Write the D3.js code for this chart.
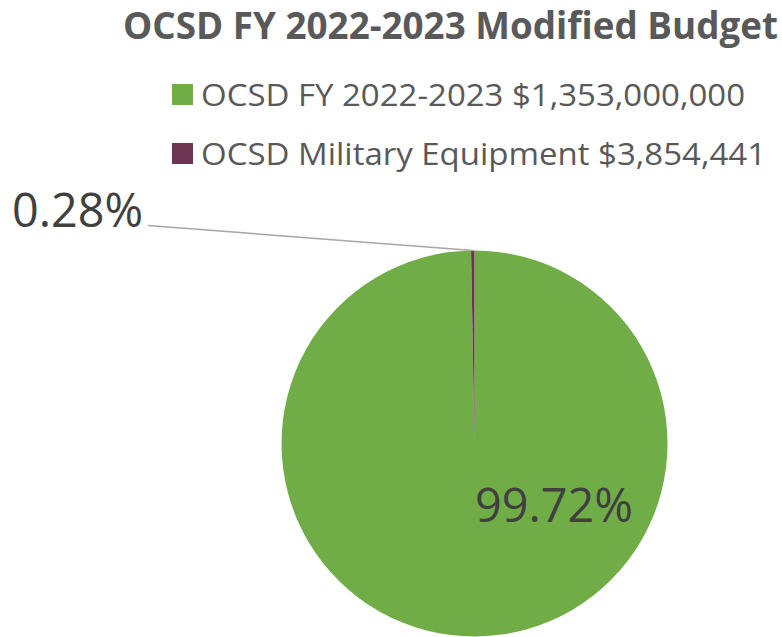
<!DOCTYPE html>
<html>
<head>
<meta charset="utf-8">
<script src="https://cdn.jsdelivr.net/npm/d3@7"></script>
<style>
  html, body { margin: 0; padding: 0; background: #fff; }
  svg { display: block; }
</style>
</head>
<body>
<svg id="chart" width="782" height="637"></svg>
<script>
const title = "OCSD FY 2022-2023 Modified Budget";
const categories = ["OCSD FY 2022-2023 $1,353,000,000", "OCSD Military Equipment $3,854,441"];
const values = [1353000000, 3854441];
const colors = ["#70AD47", "#6E3553"];

const svg = d3.select("#chart");
const FONT = "'Open Sans', 'Noto Sans', sans-serif";

function fitText(sel, width) {
  sel.attr("textLength", width).attr("lengthAdjust", "spacingAndGlyphs");
}

// Title
svg.append("text")
  .attr("x", 123).attr("y", 39)
  .attr("font-family", FONT).attr("font-weight", 700)
  .attr("font-size", 37).attr("fill", "#595959")
  .text(title)
  .call(fitText, 655);

// Legend
const legendY = [84, 143];
const legendEnd = [745, 766];
categories.forEach((c, i) => {
  svg.append("rect")
    .attr("x", 172).attr("y", legendY[i])
    .attr("width", 21).attr("height", 21)
    .attr("fill", colors[i]);
  svg.append("text")
    .attr("x", 201).attr("y", legendY[i] + 22)
    .attr("font-family", FONT).attr("font-size", 31)
    .attr("fill", "#595959")
    .text(c)
    .call(fitText, legendEnd[i] - 201);
});

// Pie
const cx = 474.5, cy = 443.5, r = 193;
const pie = d3.pie().sort(null).value(d => d)(values);
const arc = d3.arc().innerRadius(0).outerRadius(r);
const total = d3.sum(values);
const g = svg.append("g").attr("transform", `translate(${cx},${cy})`);
g.selectAll("path").data(pie).join("path")
  .attr("d", arc)
  .attr("fill", (d, i) => colors[i]);

const pct = v => (v / total * 100).toFixed(2) + "%";

// Leader line for small slice
const small = pie[1];
const midA = (small.startAngle + small.endAngle) / 2;
const ex = cx + r * Math.sin(midA), ey = cy - r * Math.cos(midA);
svg.append("polyline")
  .attr("points", `148,225.5 ${ex},${ey}`)
  .attr("fill", "none").attr("stroke", "#A6A6A6").attr("stroke-width", 1.5);

svg.append("text")
  .attr("x", 12).attr("y", 227)
  .attr("font-family", FONT).attr("font-size", 48)
  .attr("fill", "#404040")
  .text(pct(values[1]))
  .call(fitText, 131);

svg.append("text")
  .attr("x", 475).attr("y", 522)
  .attr("font-family", FONT).attr("font-size", 48)
  .attr("fill", "#404040")
  .text(pct(values[0]))
  .call(fitText, 158);
</script>
</body>
</html>
